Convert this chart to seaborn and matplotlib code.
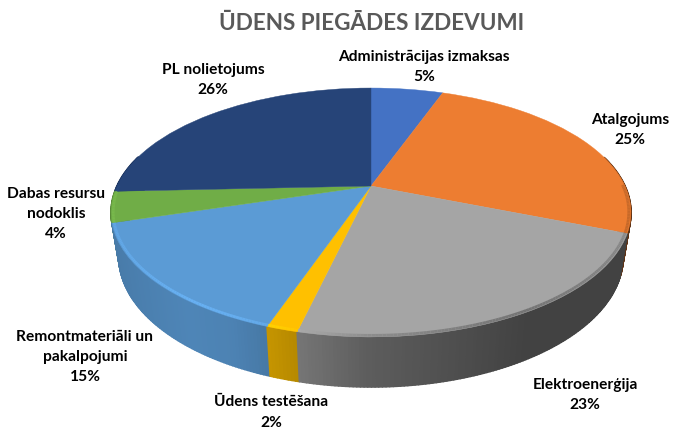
import numpy as np
import matplotlib
matplotlib.use("Agg")
import matplotlib.pyplot as plt
from matplotlib.collections import PolyCollection, LineCollection
from matplotlib.transforms import Transform
import seaborn as sns

TITLE = "ŪDENS PIEGĀDES IZDEVUMI"
categories = ["Administrācijas izmaksas", "Atalgojums", "Elektroenerģija", "Ūdens testēšana",
              "Remontmateriāli un\npakalpojumi", "Dabas resursu\nnodoklis", "PL nolietojums"]
slice_shares = [5.5, 25.5, 22.7, 1.6, 15.0, 4.0, 25.7]
percent_labels = ["5%", "25%", "23%", "2%", "15%", "4%", "26%"]
colors_hex = ["#4472C4", "#ED7D31", "#A5A5A5", "#FFC000", "#5B9BD5", "#70AD47", "#264478"]
label_xy = [(424, 67), (630, 130), (585, 395), (271, 412.5), (85, 357), (56, 214), (213, 80)]

sns.set_theme(style="white")
plt.rcParams["font.family"] = ["Lato", "DejaVu Sans"]
palette = sns.color_palette(colors_hex)

CX, CY, R, H, K, DEPTH, SHRINK = 371.0, 186.0, 254.0, 118.8, 0.2126, 43.0, 0.97


def project(x, y, z=0.0):
    w = 1 + K * y
    s = 1 - (1 - SHRINK) * z
    return CX + s * R * x / w, CY - s * H * y / w + z * DEPTH / w


class Perspective(Transform):
    input_dims = output_dims = 2
    is_affine = False
    has_inverse = False

    def transform_non_affine(self, values):
        values = np.asarray(values, dtype=float)
        px, py = project(values[:, 0], values[:, 1])
        return np.column_stack([px, py])


fig = plt.figure(figsize=(7, 4.4), dpi=100, facecolor="white")
ax = fig.add_axes([0, 0, 1, 1])

wedges, _ = ax.pie(slice_shares, colors=palette, startangle=90, counterclock=False, radius=1.0)
persp = Perspective() + ax.transData
for wedge, col in zip(wedges, palette):
    wedge.set_transform(persp)
    wedge.set_edgecolor(col)
    wedge.set_linewidth(0.3)
    wedge.set_zorder(3)

ax.set_aspect("auto")
ax.set_xlim(0, 700)
ax.set_ylim(440, 0)
ax.axis("off")

SIDE_T = [-1.0, -0.6, -0.44, -0.30, 0.0, 0.5, 1.0]
SIDE_F = [0.78, 0.86, 0.84, 0.76, 0.56, 0.40, 0.40]
RIM_F = [1.06, 1.14, 1.12, 1.08, 0.85, 0.70, 0.85]

edges = np.cumsum([0.0] + slice_shares) / 100 * 2 * np.pi
strips, rim_segs, rim_cols = [], [], []
for a0, a1, col in zip(edges[:-1], edges[1:], palette):
    n = max(2, int(np.degrees(a1 - a0) * 1.5))
    th = np.linspace(a0, a1, n + 1)
    for t0, t1 in zip(th[:-1], th[1:]):
        x0, y0, x1, y1 = np.sin(t0), np.cos(t0), np.sin(t1), np.cos(t1)
        mid = 0.5 * (x0 + x1)
        f = np.interp(mid, SIDE_T, SIDE_F)
        if y0 < 0.25 or y1 < 0.25:
            quad = [project(x0, y0), project(x1, y1), project(x1, y1, 1), project(x0, y0, 1)]
            strips.append((-0.5 * (y0 + y1), quad, tuple(np.clip(np.array(col) * f, 0, 1))))
        if y0 < 0.0 or y1 < 0.0:
            rf = np.interp(mid, SIDE_T, RIM_F)
            rim_segs.append([project(0.992 * x0, 0.992 * y0), project(0.992 * x1, 0.992 * y1)])
            rim_cols.append(tuple(np.clip(np.array(col) * rf, 0, 1)))

strips.sort(key=lambda s: s[0])
polys = [s[1] for s in strips]
side_cols = [s[2] for s in strips]
ax.add_collection(PolyCollection(polys, facecolors=side_cols, edgecolors=side_cols, linewidths=1.2, zorder=2))
ax.add_collection(LineCollection(rim_segs, colors=rim_cols, linewidths=2.0, zorder=4, capstyle="butt"))

ax.text(371.5, 24, TITLE, ha="center", va="center", fontsize=16.2, fontweight="bold", color="#595959")
for name, pct, (lx, ly) in zip(categories, percent_labels, label_xy):
    ax.text(lx, ly, f"{name}\n{pct}", ha="center", va="center", fontsize=11.2, fontweight="bold",
            color="#000000", linespacing=1.55)

fig.savefig("out.png", dpi=100, facecolor="white")
